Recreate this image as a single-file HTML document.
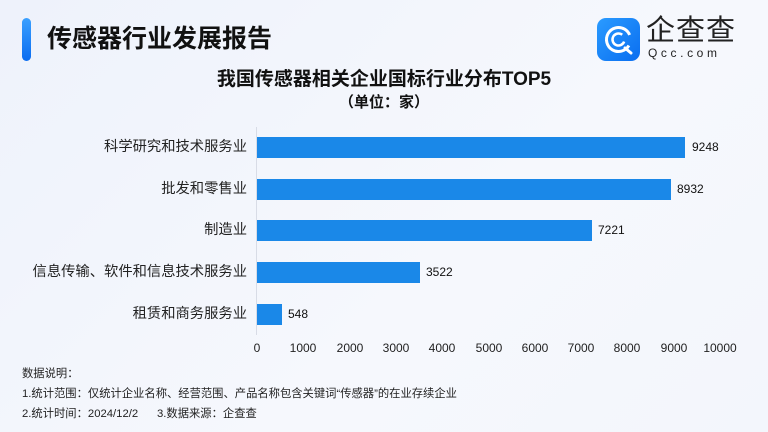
<!DOCTYPE html>
<html><head><meta charset="utf-8"><style>
*{margin:0;padding:0;box-sizing:border-box}
body{width:768px;height:432px;overflow:hidden;background:linear-gradient(135deg,#eef2fb 0%,#f6f8fd 60%,#f3f6fc 100%);font-family:"Liberation Sans","Noto Sans CJK SC",sans-serif;position:relative;color:#111}
.a{position:absolute;white-space:nowrap}
.bar{position:absolute;left:257px;height:21px;background:#1a88e8}
.lab{position:absolute;right:521px;font-size:14.3px;color:#222;line-height:21px}
.val{position:absolute;font-size:12px;color:#111;line-height:21px}
.tk{position:absolute;top:341px;font-size:12px;color:#222;width:60px;text-align:center}
.n{position:absolute;left:22px;font-size:11.3px;color:#222}
</style></head><body>
<div class="a" style="left:22px;top:18px;width:9px;height:43px;border-radius:5px;background:linear-gradient(#3aa0ff,#0a6cf0)"></div>
<div class="a" style="left:47px;top:21px;font-size:25px;font-weight:bold;line-height:36px;color:#111">传感器行业发展报告</div>
<div class="a" style="left:597px;top:18px;width:43px;height:43px;border-radius:9px;background:linear-gradient(135deg,#2a9bff,#0a6ef0)">
<svg width="43" height="43" viewBox="0 0 43 43"><circle cx="21.5" cy="21.5" r="12" fill="none" stroke="#fff" stroke-width="3" stroke-dasharray="64 12" transform="rotate(30 21.5 21.5)"/><circle cx="21.5" cy="21.5" r="6" fill="none" stroke="#fff" stroke-width="2.5" stroke-dasharray="30 8" transform="rotate(20 21.5 21.5)"/><path d="M28 30 L34 35" stroke="#fff" stroke-width="3" stroke-linecap="round"/></svg></div>
<div class="a" style="left:646px;top:14px;font-size:29px;line-height:34px;color:#222;letter-spacing:1px">企查查</div>
<div class="a" style="left:648px;top:46px;font-size:12px;line-height:14px;color:#222;letter-spacing:3.6px">Qcc.com</div>
<div class="a" style="left:0;width:768px;top:68px;text-align:center;font-size:19px;font-weight:bold;line-height:24px">我国传感器相关企业国标行业分布TOP5</div>
<div class="a" style="left:0;width:768px;top:92px;text-align:center;font-size:15px;font-weight:bold;line-height:22px">（单位：家）</div>
<div class="a" style="left:256px;top:127px;width:1px;height:208px;background:#d8dce6"></div>
<div class="lab" style="top:137px">科学研究和技术服务业</div>
<div class="bar" style="top:137px;width:428px"></div><div class="val" style="top:137px;left:692px">9248</div>
<div class="lab" style="top:179px">批发和零售业</div>
<div class="bar" style="top:179px;width:414px"></div><div class="val" style="top:179px;left:677px">8932</div>
<div class="lab" style="top:220px">制造业</div>
<div class="bar" style="top:220px;width:335px"></div><div class="val" style="top:220px;left:598px">7221</div>
<div class="lab" style="top:262px">信息传输、软件和信息技术服务业</div>
<div class="bar" style="top:262px;width:163px"></div><div class="val" style="top:262px;left:426px">3522</div>
<div class="lab" style="top:304px">租赁和商务服务业</div>
<div class="bar" style="top:304px;width:25px"></div><div class="val" style="top:304px;left:288px">548</div>
<div class="tk" style="left:227px">0</div><div class="tk" style="left:273px">1000</div><div class="tk" style="left:320px">2000</div><div class="tk" style="left:366px">3000</div><div class="tk" style="left:412px">4000</div><div class="tk" style="left:459px">5000</div><div class="tk" style="left:505px">6000</div><div class="tk" style="left:551px">7000</div><div class="tk" style="left:597px">8000</div><div class="tk" style="left:644px">9000</div><div class="tk" style="left:690px">10000</div>
<div class="n" style="top:365px">数据说明：</div>
<div class="n" style="top:385px">1.统计范围：仅统计企业名称、经营范围、产品名称包含关键词“传感器”的在业存续企业</div>
<div class="n" style="top:405px">2.统计时间：2024/12/2&nbsp;&nbsp;&nbsp;&nbsp;&nbsp;&nbsp;3.数据来源：企查查</div>
</body></html>
